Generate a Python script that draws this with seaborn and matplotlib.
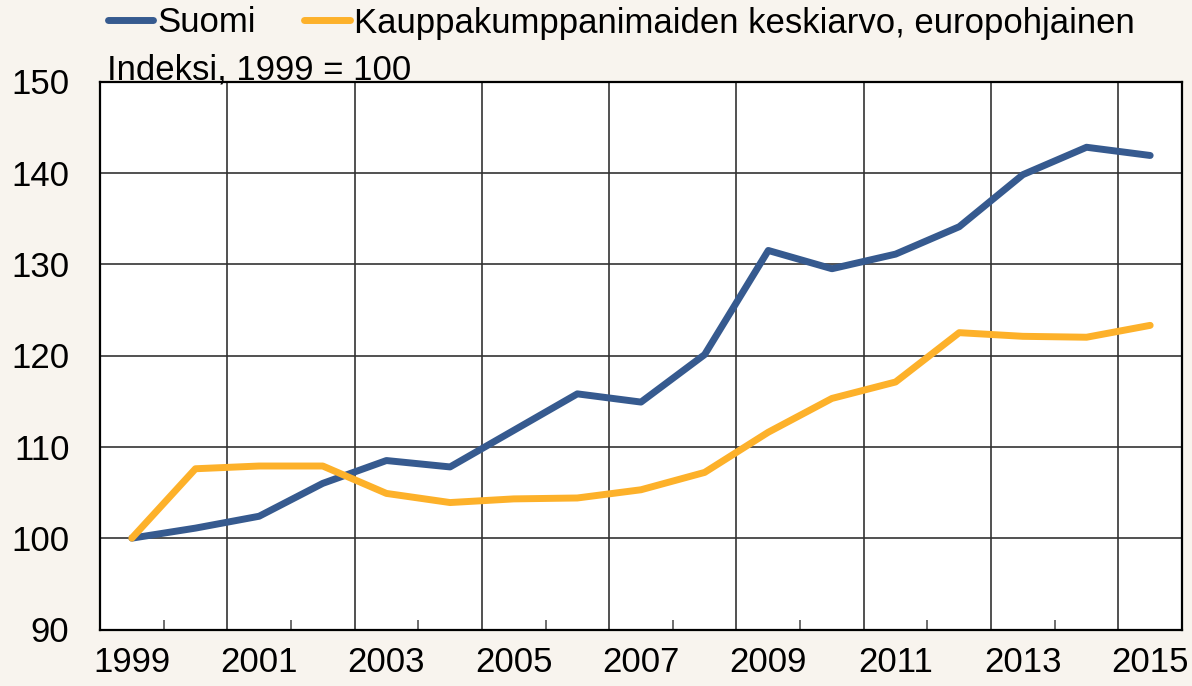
import pandas as pd
import matplotlib
matplotlib.use('Agg')
import matplotlib.pyplot as plt
import seaborn as sns

years = list(range(1999, 2016))
suomi = [100.0, 101.1, 102.4, 106.0, 108.5, 107.8, 111.8, 115.8, 114.9, 120.1,
         131.5, 129.5, 131.1, 134.1, 139.8, 142.8, 141.9]
kauppa = [100.0, 107.6, 107.9, 107.9, 104.9, 103.9, 104.3, 104.4, 105.3, 107.2,
          111.6, 115.3, 117.1, 122.5, 122.1, 122.0, 123.3]
series_names = ['Suomi', 'Kauppakumppanimaiden keskiarvo, europohjainen']
y_ticks = [90, 100, 110, 120, 130, 140, 150]
unit_text = 'Indeksi, 1999 = 100'

BG = '#f8f4ee'
colors = ['#365a8f', '#fdb12a']
FS = 25

df = pd.DataFrame({
    'year': years * 2,
    'value': suomi + kauppa,
    'series': [series_names[0]] * len(years) + [series_names[1]] * len(years),
})

sns.set_style('white')
plt.rcParams['font.family'] = ['Liberation Sans', 'DejaVu Sans']
plt.rcParams['font.size'] = FS
plt.rcParams['text.color'] = 'black'
plt.rcParams['xtick.labelcolor'] = 'black'
plt.rcParams['ytick.labelcolor'] = 'black'

fig = plt.figure(figsize=(11.92, 6.86), dpi=100, facecolor=BG)
ax = fig.add_axes([100 / 1192, 1 - 629.5 / 686, 1082 / 1192, 548 / 686])
ax.set_facecolor('white')

sns.lineplot(data=df, x='year', y='value', hue='series', hue_order=series_names,
             palette=colors, linewidth=5, ax=ax, legend=True,
             solid_capstyle='round')

ax.set_xlim(years[0] - 0.5, years[-1] + 0.5)
ax.set_ylim(y_ticks[0], y_ticks[-1])

# horizontal grid
ax.set_yticks(y_ticks)
ax.yaxis.grid(True, color='#333333', linewidth=1.2)
ax.tick_params(axis='y', length=0, pad=22, labelsize=FS, labelcolor='black')

# vertical grid every second year boundary, short ticks on the others
bounds = [y + 0.5 for y in years[:-1]]
for i, b in enumerate(bounds):
    if i % 2 == 1:
        ax.axvline(b, color='#333333', linewidth=1.2, zorder=0.5)
ax.set_xticks(bounds)
ax.set_xticklabels([])
ax.tick_params(axis='x', which='major', bottom=True, direction='in', length=7,
               width=1.2, color='#555555')
ax.set_xticks(years[::2], minor=True)
ax.set_xticklabels([str(y) for y in years[::2]], minor=True)
ax.tick_params(axis='x', which='minor', bottom=True, length=0, pad=12, labelsize=FS,
               labelcolor='black')

for s in ax.spines.values():
    s.set_visible(True)
    s.set_color('black')
    s.set_linewidth(1.6)

ax.set_xlabel('')
ax.set_ylabel('')

handles, labels = ax.get_legend_handles_labels()
ax.get_legend().remove()
leg = fig.legend(handles, labels, loc='center left', bbox_to_anchor=(108 / 1192, 1 - 23 / 686),
                 ncol=2, frameon=False, borderpad=0, borderaxespad=0, handlelength=1.3,
                 handletextpad=0.12, columnspacing=1.4, fontsize=FS)
for t in leg.get_texts():
    t.set_color('black')

fig.text(107 / 1192, 1 - 79 / 686, unit_text, fontsize=FS, va='baseline', ha='left',
         color='black')

fig.savefig('out.png', dpi=100, facecolor=BG)
